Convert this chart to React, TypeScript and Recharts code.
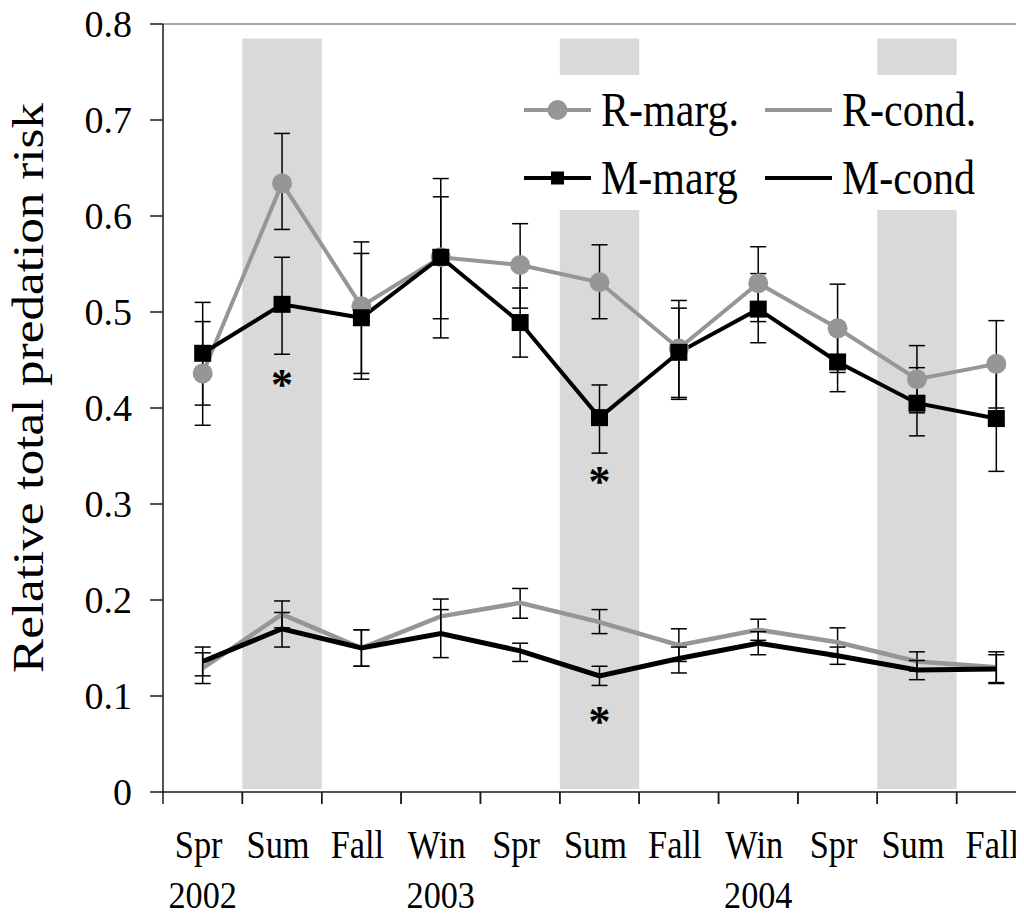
import {
  ComposedChart,
  Line,
  XAxis,
  YAxis,
  ErrorBar,
  ReferenceArea,
  ReferenceLine,
  ReferenceDot,
  Legend,
  Label,
} from 'recharts';

const FONT = '"Liberation Serif", "Times New Roman", "DejaVu Serif", serif';
const GREY = '#969696';
const SHADE = '#d9d9d9';
const AXIS = '#1a1a1a';

// seasons sampled, 2002-2004
const periods = [
  'Spr 2002', 'Sum 2002', 'Fall 2002', 'Win 2003', 'Spr 2003', 'Sum 2003',
  'Fall 2003', 'Win 2004', 'Spr 2004', 'Sum 2004', 'Fall 2004',
];
const seasons = ['Spr', 'Sum', 'Fall', 'Win', 'Spr', 'Sum', 'Fall', 'Win', 'Spr', 'Sum', 'Fall'];
const years = ['2002', '', '', '2003', '', '', '', '2004', '', '', ''];

const rMarg = [0.436, 0.634, 0.506, 0.557, 0.549, 0.531, 0.462, 0.530, 0.483, 0.430, 0.446];
const rMargErr = [
  [0.054, 0.054], [0.048, 0.052], [0.070, 0.067], [0.084, 0.082], [0.045, 0.043], [0.038, 0.039],
  [0.051, 0.050], [0.040, 0.038], [0.046, 0.046], [0.035, 0.035], [0.046, 0.045],
];
const mMarg = [0.457, 0.508, 0.494, 0.557, 0.489, 0.390, 0.458, 0.503, 0.448, 0.405, 0.389];
const mMargErr = [
  [0.054, 0.053], [0.052, 0.049], [0.064, 0.067], [0.064, 0.063], [0.036, 0.036], [0.037, 0.034],
  [0.049, 0.046], [0.035, 0.037], [0.031, 0.031], [0.034, 0.037], [0.055, 0.055],
];
const rCond = [0.129, 0.185, 0.150, 0.183, 0.197, 0.177, 0.153, 0.169, 0.156, 0.136, 0.130];
const rCondErr = [
  [0.016, 0.016], [0.014, 0.014], [0.019, 0.019], [0.018, 0.018], [0.016, 0.015], [0.012, 0.013],
  [0.017, 0.017], [0.011, 0.011], [0.015, 0.015], [0.010, 0.010], [0.016, 0.016],
];
const mCond = [0.136, 0.170, 0.150, 0.165, 0.147, 0.121, 0.139, 0.155, 0.142, 0.127, 0.128];
const mCondErr = [
  [0.015, 0.015], [0.019, 0.017], [0.019, 0.019], [0.025, 0.025], [0.011, 0.008], [0.010, 0.010],
  [0.015, 0.012], [0.012, 0.012], [0.009, 0.009], [0.010, 0.010], [0.015, 0.015],
];

const yTicks = [0, 0.1, 0.2, 0.3, 0.4, 0.5, 0.6, 0.7, 0.8];
const summers = ['Sum 2002', 'Sum 2003', 'Sum 2004'];
const shadeTop = 0.785;
const stars = [
  { period: 'Sum 2002', y: 0.431 },
  { period: 'Sum 2003', y: 0.33 },
  { period: 'Sum 2003', y: 0.08 },
];
const legendOrder = ['rMarg', 'rCond', 'mMarg', 'mCond'];

const data = periods.map((period, i) => ({
  period,
  rMarg: rMarg[i],
  rMargErr: rMargErr[i],
  mMarg: mMarg[i],
  mMargErr: mMargErr[i],
  rCond: rCond[i],
  rCondErr: rCondErr[i],
  mCond: mCond[i],
  mCondErr: mCondErr[i],
}));

const CHART_W = 1040;
const CHART_H = 920;
const Y_AXIS_W = 163;
const MARGIN = { top: 24, right: 4, bottom: 0, left: 0 };
const BAND = (CHART_W - MARGIN.right - Y_AXIS_W) / periods.length;

const SeasonTick = (props: any) => {
  const { x, y, index } = props;
  const sx = 0.86;
  return (
    <g>
      <line x1={x - BAND / 2} x2={x - BAND / 2} y1={y} y2={y + 12} stroke={AXIS} strokeWidth={1.5} />
      <line x1={x + BAND / 2} x2={x + BAND / 2} y1={y} y2={y + 12} stroke={AXIS} strokeWidth={1.5} />
      <text
        transform={`translate(${x - 4},${y + 66}) scale(${sx},1)`}
        textAnchor="middle"
        fontSize={40}
        fontFamily={FONT}
        fill="#000"
      >
        {seasons[index]}
      </text>
      {years[index] && (
        <text
          transform={`translate(${x},${y + 116}) scale(0.9,1)`}
          textAnchor="middle"
          fontSize={38}
          fontFamily={FONT}
          fill="#000"
        >
          {years[index]}
        </text>
      )}
    </g>
  );
};

const YTitle = (props: any) => {
  const vb = props.viewBox || { x: 0, y: MARGIN.top, height: 768 };
  const cx = vb.x + 43;
  const cy = vb.y + vb.height / 2 - 20;
  return (
    <text
      x={cx}
      y={cy}
      transform={`rotate(-90 ${cx} ${cy})`}
      textAnchor="middle"
      fontSize={45}
      fontFamily={FONT}
      textLength={570}
      lengthAdjust="spacingAndGlyphs"
      fill="#000"
    >
      Relative total predation risk
    </text>
  );
};

const SquareDot = (props: any) => {
  const { cx, cy, index } = props;
  if (cx == null || cy == null) return null;
  return <rect key={`sq-${index}`} x={cx - 8.5} y={cy - 8.5} width={17} height={17} fill="#000" />;
};

const Star = (props: any) => {
  const { cx, cy } = props;
  return (
    <text x={cx} y={cy + 21} textAnchor="middle" fontSize={44} fontWeight="bold" fontFamily={FONT} fill="#000">
      *
    </text>
  );
};

const LegendIcon = ({ dataKey, color }: { dataKey: string; color: string }) => (
  <svg width={67} height={24} style={{ display: 'block', flex: 'none' }}>
    <line x1={0} x2={67} y1={12} y2={12} stroke={color} strokeWidth={4} />
    {dataKey === 'rMarg' && <circle cx={33.5} cy={12} r={10} fill={color} />}
    {dataKey === 'mMarg' && <rect x={27} y={5.5} width={13} height={13} fill={color} />}
  </svg>
);

const LegendBox = (props: any) => {
  const payload = props.payload || [];
  const items = legendOrder
    .map((k) => payload.find((p: any) => p.dataKey === k))
    .filter(Boolean);
  return (
    <div
      style={{
        display: 'grid',
        gridTemplateColumns: '241px 241px',
        gridAutoRows: '68px',
        paddingTop: 1,
        paddingLeft: 16,
        fontFamily: FONT,
      }}
    >
      {items.map((it: any) => (
        <div key={it.dataKey} style={{ display: 'flex', alignItems: 'center' }}>
          <LegendIcon dataKey={it.dataKey} color={it.color} />
          <span
            style={{
              marginLeft: 10,
              fontSize: 48,
              lineHeight: 1,
              color: '#000',
              whiteSpace: 'nowrap',
              display: 'inline-block',
              transform: 'scaleX(0.875)',
              transformOrigin: 'left center',
            }}
          >
            {it.value}
          </span>
        </div>
      ))}
    </div>
  );
};

export default function App() {
  return (
    <div style={{ margin: -8, width: 1024, height: 920, overflow: 'hidden', background: '#fff' }}>
      <ComposedChart width={CHART_W} height={CHART_H} data={data} margin={MARGIN}>
        {summers.map((s) =>
          <ReferenceArea
            key={s}
            x1={s}
            x2={s}
            y1={0.003}
            y2={shadeTop}
            fill={SHADE}
            fillOpacity={1}
            stroke="none"
          />
        )}
        <ReferenceLine y={0.8} stroke="#8c8c8c" strokeWidth={1.5} />
        <XAxis
          dataKey="period"
          scale="band"
          interval={0}
          height={128}
          tickLine={false}
          tickSize={0}
          tickMargin={0}
          tick={<SeasonTick />}
          axisLine={{ stroke: AXIS, strokeWidth: 1.5 }}
        />
        <YAxis
          domain={[0, 0.8]}
          ticks={yTicks}
          interval={0}
          width={Y_AXIS_W}
          tickSize={13}
          tickMargin={18}
          tickFormatter={(v: number) => (v === 0 ? '0' : v.toFixed(1))}
          tick={{ fontSize: 38, fill: '#000', fontFamily: FONT }}
          axisLine={{ stroke: AXIS, strokeWidth: 1.5 }}
          tickLine={{ stroke: AXIS, strokeWidth: 1.5 }}
        >
          <Label content={<YTitle />} />
        </YAxis>
        <Legend
          layout="vertical"
          verticalAlign="middle"
          align="center"
          content={<LegendBox />}
          wrapperStyle={{ left: 508, top: 75, width: 492, height: 135, background: '#fff' }}
        />
        <Line
          dataKey="rCond"
          name="R-cond."
          type="linear"
          stroke={GREY}
          strokeWidth={4.5}
          dot={false}
          activeDot={false}
          isAnimationActive={false}
        >
          <ErrorBar dataKey="rCondErr" width={8} stroke="#000" strokeWidth={1.5} direction="y" />
        </Line>
        <Line
          dataKey="mCond"
          name="M-cond"
          type="linear"
          stroke="#000"
          strokeWidth={5}
          dot={false}
          activeDot={false}
          isAnimationActive={false}
        >
          <ErrorBar dataKey="mCondErr" width={8} stroke="#000" strokeWidth={1.5} direction="y" />
        </Line>
        <Line
          dataKey="rMarg"
          name="R-marg."
          type="linear"
          stroke={GREY}
          strokeWidth={4}
          dot={{ r: 10, fill: GREY, stroke: 'none' }}
          activeDot={false}
          isAnimationActive={false}
        >
          <ErrorBar dataKey="rMargErr" width={8} stroke="#000" strokeWidth={1.5} direction="y" />
        </Line>
        <Line
          dataKey="mMarg"
          name="M-marg"
          type="linear"
          stroke="#000"
          strokeWidth={4}
          dot={<SquareDot />}
          activeDot={false}
          isAnimationActive={false}
        >
          <ErrorBar dataKey="mMargErr" width={8} stroke="#000" strokeWidth={1.5} direction="y" />
        </Line>
        {stars.map((s, i) => (
          <ReferenceDot key={i} x={s.period} y={s.y} r={0} shape={<Star />} />
        ))}
      </ComposedChart>
    </div>
  );
}
